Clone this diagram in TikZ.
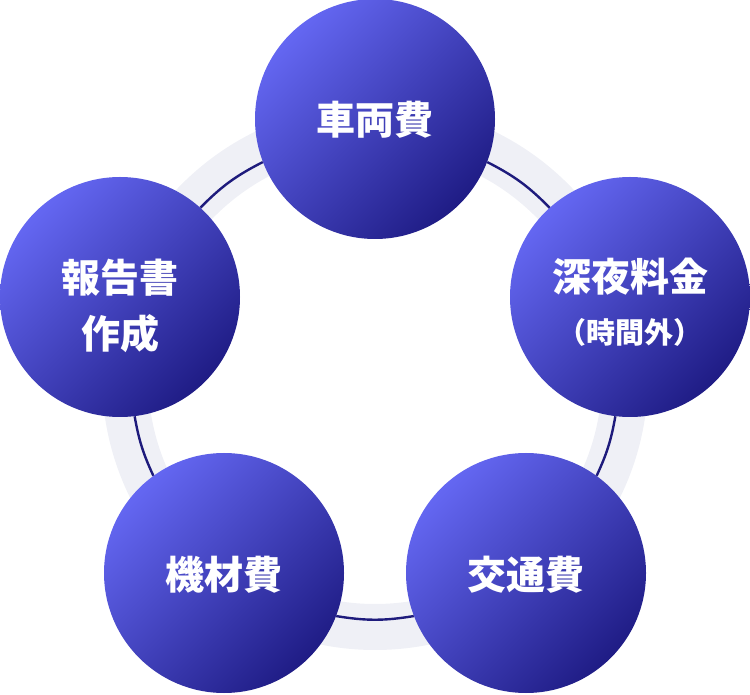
\documentclass[tikz,border=0pt]{standalone}
\usepackage{fontspec}
\usepackage{tikz}
\newfontfamily\jpfont{Noto Sans CJK JP}
\definecolor{ballLight}{HTML}{6467F2}
\definecolor{ballDark}{HTML}{1F1C85}
\definecolor{ringGray}{HTML}{EFF0F6}
\definecolor{ringNavy}{HTML}{1E1B7C}
\newcommand{\costnode}[4]{
  \node[costball] (#1) at (#2) {};
  \node[costlabel] (#1text) at ([yshift=#3]#1) {#4};
}
\tikzset{x=1pt, y=1pt,
  costball/.style  = {circle, minimum size=240pt, inner sep=0pt,
                      top color=ballLight, bottom color=ballDark, shading angle=45},
  costlabel/.style = {text=white, align=center, inner sep=0pt,
                      font=\jpfont\bfseries\fontsize{39pt}{56pt}\selectfont}}

\begin{document}
\begin{tikzpicture}
	\useasboundingbox (0,0) rectangle (750,694);
	\draw[ringGray, line width=46pt] (375,317) circle[radius=250pt];
	\costnode{sharyo}{375,575}{-1pt}{車両費}
	\costnode{shinya}{630,397}{-5pt}{深夜料金\\[-4pt]{\fontsize{29pt}{30pt}\selectfont （時間外）}}
	\costnode{kotsu}{526,121}{-2pt}{交通費}
	\costnode{kizai}{224,121}{-2pt}{機材費}
	\costnode{hokoku}{120,397}{-8.5pt}{報告書\\作成}
	\tikzstyle{LinkStyle}=[draw=ringNavy, line width=2.4pt]
	\draw[LinkStyle] (sharyo.339) to[bend left=9.2] (shinya.132);
	\draw[LinkStyle] (shinya.263) to[bend left=7.4] (kotsu.54);
	\draw[LinkStyle] (kotsu.201) to[bend left=9.3] (kizai.339);
	\draw[LinkStyle] (kizai.126) to[bend left=7.4] (hokoku.277);
	\draw[LinkStyle] (hokoku.48) to[bend left=9.2] (sharyo.201);
\end{tikzpicture}
\end{document}
